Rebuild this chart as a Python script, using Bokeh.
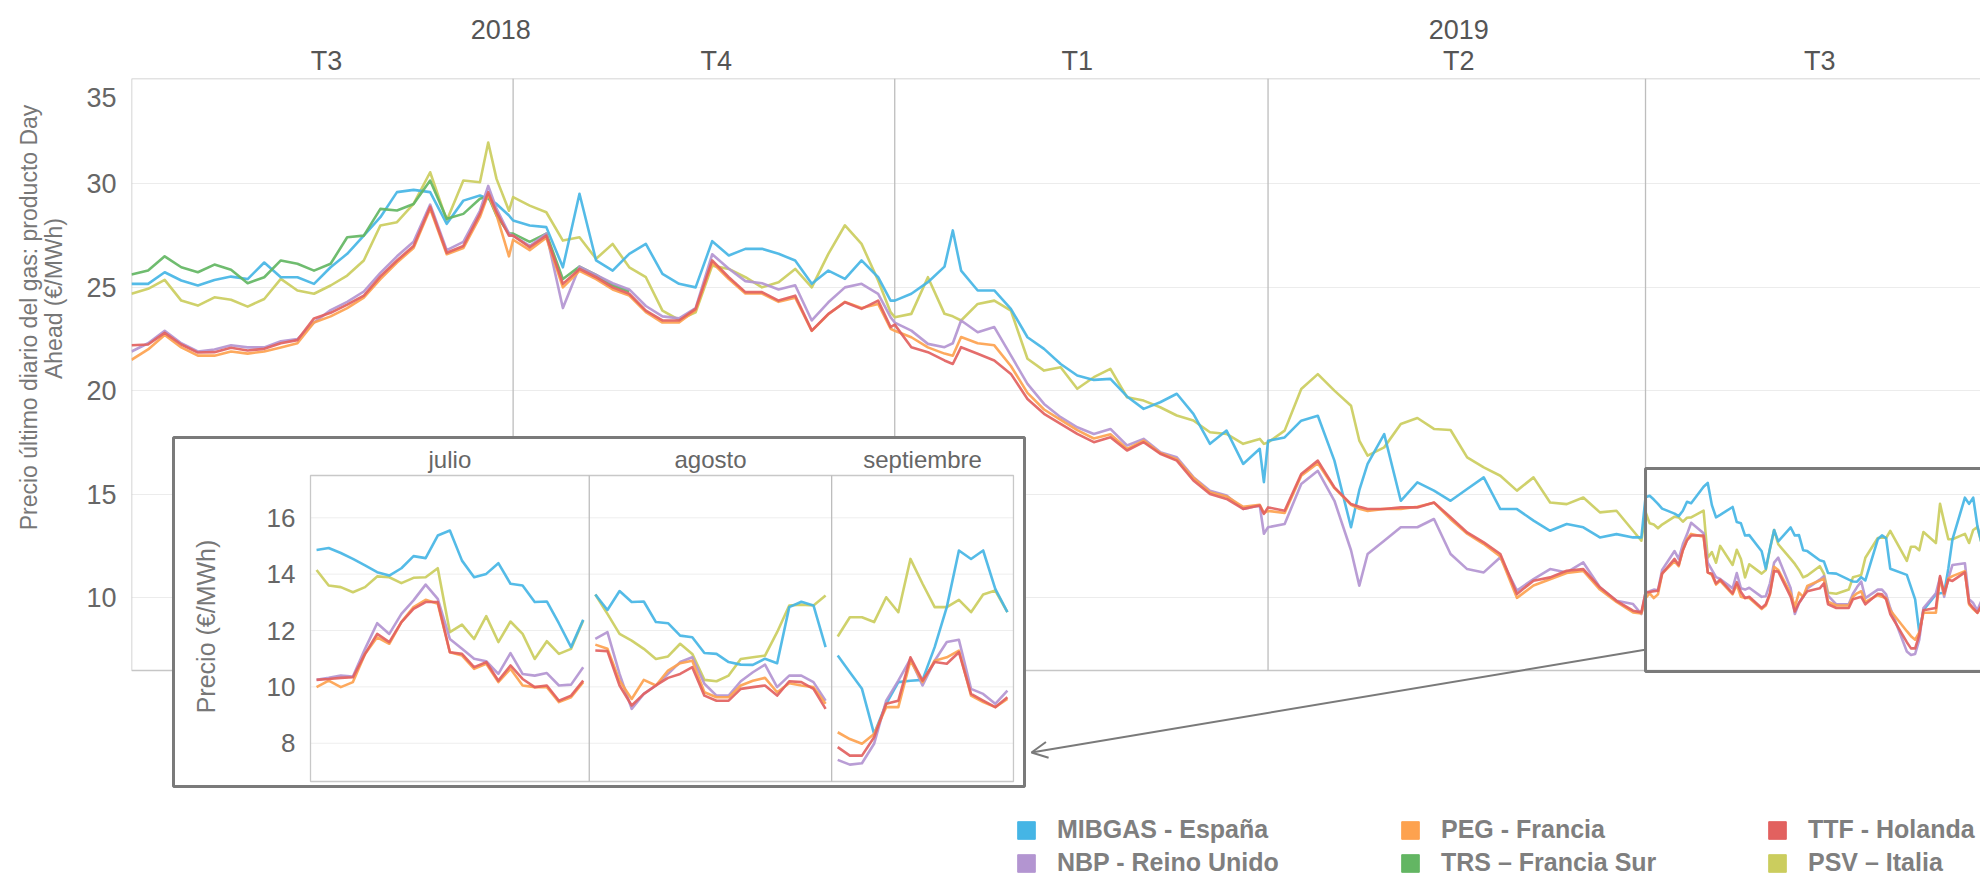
import numpy as np
import pandas as pd
from bokeh.plotting import figure
from bokeh.layouts import row
from bokeh.models import (Range1d, FixedTicker, Legend, LegendItem, Arrow, OpenHead, LinearAxis, Label)
from bokeh.core.properties import value
from bokeh.embed import file_html
from bokeh.resources import INLINE

FONT = "Liberation Sans"

# ---------------- data ----------------
hubs = ["MIBGAS - España", "NBP - Reino Unido", "PEG - Francia",
        "TRS – Francia Sur", "TTF - Holanda", "PSV – Italia"]
colores = ["#45B5E5", "#B395D1", "#FDA24F", "#63B663", "#E2615F", "#CBCD5E"]

anios = ["2018", "2019"]
anios_centro = [89, 320]                   # días desde 2018-07-01
trimestres = ["T3", "T4", "T1", "T2", "T3"]
trimestres_centro = [47, 141, 228, 320, 407]
limites_trimestre = [92, 184, 274, 365]
ticks_main = [10, 15, 20, 25, 30]
ticks_inset = [8, 10, 12, 14, 16]
meses = ["julio", "agosto", "septiembre"]

# main chart, Jul 2018 - Jun 2019 (days since 2018-07-01)
dias = [0, 4, 8, 12, 16, 20, 24, 28, 32, 36, 40, 44, 48, 52, 56, 60, 64, 68, 72, 76, 80, 84, 86, 88, 91,
        92, 96, 100, 104, 108, 112, 116, 120, 124, 128, 132, 136, 140, 144, 148, 152, 156, 160, 164, 168, 172, 176, 180, 183,
        184, 188, 192, 196, 198, 200, 204, 208, 212, 216, 220, 224, 228, 232, 236, 240, 244, 248, 252, 256, 260, 264, 268, 272, 273,
        274, 278, 282, 286, 290, 294, 296, 298, 302, 306, 310, 314, 318, 322, 326, 330, 334, 338, 342, 346, 350, 354, 358, 362, 364]

mibgas = [25.17, 25.17, 25.73, 25.33, 25.09, 25.36, 25.52, 25.4, 26.2, 25.49, 25.49, 25.17, 25.97, 26.62, 27.5, 28.39, 29.6, 29.71, 29.6, 28.07, 29.19, 29.44, 29.28, 29.03, 28.47,
          28.23, 27.99, 27.91, 25.97, 29.52, 26.30, 25.81, 26.62, 27.1, 25.65, 25.17, 25.0, 27.23, 26.54, 26.86, 26.86, 26.62, 26.30, 25.17, 25.81, 25.41, 26.30, 25.49, 24.36,
          24.36, 24.69, 25.25, 26.0, 27.75, 25.81, 24.85, 24.85, 23.96, 22.59, 22.03, 21.3, 20.74, 20.53, 20.58, 19.73, 19.13, 19.45, 19.86, 18.89, 17.44, 18.08, 16.47, 17.2, 15.59,
          17.59, 17.75, 18.56, 18.8, 16.63, 13.41, 15.2, 16.47, 17.91, 14.69, 15.58, 15.18, 14.69, 15.26, 15.82, 14.29, 14.29, 13.73, 13.24, 13.57, 13.41, 12.92, 13.08, 12.92, 12.92]

psv = [24.69, 24.93, 25.36, 24.36, 24.12, 24.52, 24.40, 24.07, 24.44, 25.41, 24.85, 24.69, 25.09, 25.57, 26.30, 27.99, 28.15, 29.03, 30.56, 28.23, 30.16, 30.08, 32.0, 30.24, 28.7,
       29.36, 28.95, 28.63, 27.26, 27.42, 26.38, 27.1, 25.97, 25.49, 23.88, 23.43, 23.8, 26.05, 25.89, 25.49, 25.0, 25.25, 25.89, 25.0, 26.62, 28.0, 27.1, 25.33, 23.8,
       23.56, 23.72, 25.49, 23.72, 23.6, 23.4, 24.2, 24.36, 23.88, 21.55, 20.98, 21.14, 20.1, 20.66, 21.06, 19.69, 19.53, 19.21, 18.81, 18.57, 18.0, 17.92, 17.44, 17.68, 17.44,
       17.51, 18.08, 20.09, 20.81, 20.01, 19.28, 17.6, 16.87, 17.27, 18.4, 18.69, 18.16, 18.11, 16.79, 16.3, 15.9, 15.18, 15.82, 14.61, 14.53, 14.85, 14.13, 14.21, 13.24, 12.76]

ttf = [22.2, 22.24, 22.8, 22.24, 21.85, 21.87, 22.08, 21.95, 22.03, 22.3, 22.45, 23.5, 23.77, 24.17, 24.6, 25.53, 26.30, 27.0, 28.9, 26.67, 27.0, 28.55, 29.6, 28.63, 27.5,
       27.5, 26.94, 27.5, 25.17, 25.89, 25.49, 25.0, 24.69, 23.88, 23.4, 23.4, 23.96, 26.3, 25.49, 24.77, 24.77, 24.36, 24.6, 22.91, 23.72, 24.28, 23.96, 24.36, 23.08,
       23.2, 22.11, 21.87, 21.47, 21.3, 22.11, 21.79, 21.47, 20.82, 19.61, 18.89, 18.41, 17.92, 17.52, 17.76, 17.12, 17.52, 16.96, 16.63, 15.67, 15.02, 14.78, 14.3, 14.46, 14.06,
       14.37, 14.21, 15.98, 16.63, 15.34, 14.53, 14.4, 14.29, 14.29, 14.37, 14.37, 14.61, 13.89, 13.16, 12.68, 12.12, 10.19, 10.83, 10.99, 11.31, 11.39, 10.51, 9.86, 9.38, 9.3]

nbp = [21.9, 22.3, 22.9, 22.3, 21.9, 22.0, 22.2, 22.1, 22.1, 22.4, 22.5, 23.3, 23.9, 24.3, 24.8, 25.7, 26.5, 27.2, 29.0, 26.8, 27.2, 28.7, 29.9, 28.8, 27.6,
       27.5, 27.0, 27.6, 24.0, 26.0, 25.6, 25.2, 24.9, 24.1, 23.6, 23.5, 24.0, 26.6, 25.9, 25.3, 25.2, 24.9, 25.1, 23.4, 24.28, 25.0, 25.17, 24.69, 23.56,
       23.3, 22.91, 22.27, 22.11, 22.3, 23.4, 22.83, 23.08, 21.71, 20.34, 19.37, 18.73, 18.24, 17.92, 18.16, 17.36, 17.68, 17.04, 16.79, 15.83, 15.18, 14.94, 14.3, 14.46, 13.1,
       13.41, 13.57, 15.5, 16.14, 14.69, 12.3, 10.59, 12.12, 12.76, 13.41, 13.41, 13.81, 12.12, 11.39, 11.23, 11.96, 10.35, 10.91, 11.39, 11.23, 11.71, 10.51, 9.86, 9.70, 9.22]

peg = [21.5, 22.0, 22.7, 22.1, 21.7, 21.7, 21.9, 21.8, 21.9, 22.1, 22.3, 23.3, 23.6, 24.0, 24.5, 25.4, 26.2, 26.9, 28.8, 26.6, 26.9, 28.4, 29.5, 28.5, 26.5,
       27.3, 26.8, 27.4, 25.0, 25.8, 25.4, 24.9, 24.6, 23.8, 23.3, 23.3, 23.9, 26.2, 25.4, 24.7, 24.7, 24.3, 24.5, 22.9, 23.7, 24.3, 24.0, 24.2, 23.0,
       22.9, 22.59, 22.1, 21.8, 21.7, 22.6, 22.3, 22.2, 21.2, 19.9, 19.1, 18.6, 18.1, 17.7, 17.9, 17.2, 17.6, 17.0, 16.7, 15.8, 15.1, 14.9, 14.4, 14.5, 14.1,
       14.2, 14.1, 15.9, 16.5, 15.3, 14.5, 14.3, 14.2, 14.3, 14.3, 14.4, 14.6, 13.8, 13.1, 12.6, 12.0, 10.0, 10.6, 10.9, 11.2, 11.3, 10.4, 9.8, 9.3, 9.25]

# TRS only exists until end of October 2018 (merged into TRF)
trs = [25.62, 25.81, 26.5, 25.97, 25.73, 26.10, 25.85, 25.2, 25.49, 26.30, 26.14, 25.81, 26.14, 27.42, 27.5, 28.79, 28.71, 29.03, 30.16, 28.31, 28.55, 29.28, 29.4, 28.47, 27.6,
       27.6, 27.2, 27.6, 25.4, 26.0, 25.6, 25.1, 24.8]
trs = trs + [None] * (len(dias) - len(trs))

# T3 2019 (trading days): julio (23), agosto (20), septiembre (15)
mibgas_t3 = [14.86, 14.93, 14.75, 14.54, 14.31, 14.07, 13.95, 14.21, 14.64, 14.57, 15.37, 15.55, 14.48, 13.89, 14.01, 14.39, 13.66, 13.60, 13.01, 13.03, 12.25, 11.41, 12.38,
             13.28, 12.73, 13.40, 13.01, 13.03, 12.30, 12.26, 11.82, 11.76, 11.20, 11.17, 10.88, 10.79, 10.78, 11.0, 10.84, 12.83, 13.02, 12.89, 11.41,
             11.11, 10.52, 9.93, 8.33, 9.40, 10.17, 10.22, 10.25, 11.41, 12.83, 14.84, 14.54, 14.84, 13.48, 12.65]
psv_t3 = [14.15, 13.6, 13.54, 13.36, 13.54, 13.92, 13.89, 13.68, 13.87, 13.89, 14.21, 11.94, 12.21, 11.70, 12.51, 11.59, 12.32, 11.88, 10.99, 11.62, 11.17, 11.35, 12.36,
          13.28, 12.59, 11.88, 11.64, 11.35, 10.99, 11.08, 11.53, 11.17, 10.25, 10.20, 10.40, 10.99, 11.05, 11.11, 11.94, 12.89, 12.92, 12.89, 13.24,
          11.79, 12.47, 12.47, 12.30, 13.18, 12.65, 14.54, 13.66, 12.83, 12.83, 13.09, 12.65, 13.28, 13.42, 12.65]
nbp_t3 = [10.25, 10.32, 10.40, 10.37, 11.35, 12.26, 11.88, 12.59, 13.07, 13.63, 13.12, 11.70, 11.35, 11.0, 10.91, 10.46, 11.20, 10.46, 10.40, 10.49, 10.05, 10.08, 10.70,
          11.70, 11.94, 10.46, 9.22, 9.75, 10.05, 10.46, 10.88, 11.05, 10.11, 9.69, 9.69, 10.20, 10.52, 10.79, 9.99, 10.40, 10.40, 10.17, 9.51,
          7.41, 7.24, 7.29, 7.98, 9.51, 10.22, 10.99, 10.05, 10.93, 11.59, 11.67, 9.93, 9.75, 9.40, 9.87]
ttf_t3 = [10.25, 10.28, 10.32, 10.34, 11.17, 11.88, 11.59, 12.30, 12.77, 13.01, 13.01, 11.23, 11.17, 10.70, 10.88, 10.22, 10.76, 10.28, 9.99, 10.05, 9.51, 9.69, 10.22,
          11.29, 11.27, 10.05, 9.34, 9.75, 10.05, 10.32, 10.46, 10.70, 9.69, 9.51, 9.51, 9.93, 9.99, 10.05, 9.69, 10.20, 10.17, 9.93, 9.22,
          7.86, 7.56, 7.56, 8.21, 9.40, 9.51, 11.05, 10.22, 10.88, 10.82, 11.23, 9.75, 9.51, 9.28, 9.63]
peg_t3 = [9.99, 10.22, 9.99, 10.17, 11.17, 11.76, 11.53, 12.30, 12.83, 13.09, 12.95, 11.23, 11.11, 10.64, 10.82, 10.17, 10.64, 10.05, 9.99, 9.99, 9.46, 9.63, 10.17,
          11.50, 11.35, 10.22, 9.57, 10.25, 10.05, 10.58, 10.84, 10.93, 9.81, 9.63, 9.63, 10.05, 10.22, 10.32, 9.81, 10.13, 10.05, 9.99, 9.40,
          8.39, 8.15, 7.98, 8.33, 9.28, 9.28, 10.93, 10.17, 10.93, 11.05, 11.29, 9.69, 9.46, 9.28, 9.57]
trs_t3 = [None] * 58

# trading days of the zoom period
base = pd.Timestamp("2018-07-01")
jul = list(pd.bdate_range("2019-07-01", "2019-07-31"))
ago = [d for d in pd.bdate_range("2019-08-01", "2019-08-30")
       if d not in (pd.Timestamp("2019-08-15"), pd.Timestamp("2019-08-30"))]
sep = list(pd.bdate_range("2019-09-02", "2019-09-20"))
n_mes = [len(jul), len(ago), len(sep)]
dias_t3 = [(d - base).days for d in jul + ago + sep]

main_series = [mibgas, nbp, peg, trs, ttf, psv]
t3_series = [mibgas_t3, nbp_t3, peg_t3, trs_t3, ttf_t3, psv_t3]

# ---------------- geometry (page px) ----------------
W, H = 1980, 877
FL, FT = 131, 78          # main pane left / top on the page
YMAX, YMIN = 35.09, 6.49
PXU = 20.7
DAYPX = 4.148


def mx(px):
    return (px - FL) / DAYPX


def my(py):
    return YMAX - (py - FT) / PXU


IX0, SLOT = 310, 12.12
IY16, IPXU = 517.3, 28.18


def ix(px):
    return (px - IX0) / SLOT


def iy(py):
    return 16 - (py - IY16) / IPXU


y_main = Range1d(my(H), my(FT))

# ---------------- left strip: axis title and tick labels ----------------
LFW = 80   # width of the title area
left = figure(width=FL, height=H, x_range=Range1d(0, LFW), y_range=y_main,
              x_axis_type=None, y_axis_location="right", output_backend="svg",
              toolbar_location=None, title=None, min_border_left=0, min_border_right=FL - LFW,
              min_border_top=FT, min_border_bottom=0, outline_line_color=None,
              background_fill_color="white", border_fill_color="white")
left.ygrid.visible = False
ax = left.yaxis[0]
top_pos = my(97)
ax.ticker = FixedTicker(ticks=ticks_main + [top_pos])
ax.major_label_overrides = {top_pos: "35"}
ax.axis_line_color = None
ax.major_tick_line_color = None
ax.minor_tick_line_color = None
ax.major_tick_out = 0
ax.major_tick_in = 0
ax.major_label_standoff = 6
ax.major_label_text_font = FONT
ax.major_label_text_font_size = "27px"
ax.major_label_text_color = "#666666"
left.add_layout(Label(x=28, y=my(317), text="Precio último diario del gas: producto Day",
                      angle=np.pi / 2, text_align="center", text_baseline="middle",
                      text_font=FONT, text_font_size="23px", text_color="#777777"))
left.add_layout(Label(x=53, y=my(298), text="Ahead (€/MWh)",
                      angle=np.pi / 2, text_align="center", text_baseline="middle",
                      text_font=FONT, text_font_size="23px", text_color="#777777"))

# ---------------- main pane ----------------
p = figure(width=W - FL, height=H, x_range=Range1d(mx(FL), mx(W)), y_range=y_main,
           x_axis_type=None, y_axis_location=None, output_backend="svg",
           toolbar_location=None, title=None,
           min_border_left=0, min_border_right=0, min_border_top=FT, min_border_bottom=0,
           outline_line_color=None, background_fill_color="white", border_fill_color="white")
p.extra_x_ranges = {"ix": Range1d(ix(FL), ix(W))}
p.extra_y_ranges = {"iy": Range1d(iy(H), iy(FT))}
p.ygrid[0].ticker = FixedTicker(ticks=ticks_main)
p.ygrid.grid_line_color = "#ececec"
p.ygrid.grid_line_width = 1


def header_axis(ticks, labels, standoff):
    a = LinearAxis(ticker=FixedTicker(ticks=ticks),
                   major_label_overrides=dict(zip(ticks, labels)))
    a.axis_line_color = None
    a.major_tick_line_color = None
    a.minor_tick_line_color = None
    a.major_tick_out = 0
    a.major_tick_in = 0
    a.major_label_standoff = standoff
    a.major_label_text_font = FONT
    a.major_label_text_font_size = "27px"
    a.major_label_text_color = "#555555"
    return a


p.add_layout(header_axis(trimestres_centro, trimestres, 3), "above")
p.add_layout(header_axis(anios_centro, anios, 4), "above")

# main frame and quarter separators
p.quad(left=0, right=mx(W) + 5, bottom=YMIN, top=YMAX, fill_color=None,
       line_color="#c6c6c6", line_width=1.5)
p.segment(x0=limites_trimestre, x1=limites_trimestre, y0=[YMIN] * 4, y1=[YMAX] * 4,
          line_color="#bdbdbd", line_width=1.3)

orden = [5, 0, 3, 1, 2, 4]
LW = 2.6
for i in orden:
    xs = dias + dias_t3
    ys = np.array(main_series[i] + t3_series[i], dtype=float)
    p.line(xs, ys, line_color=colores[i], line_width=LW, line_alpha=0.92, line_join="round")

# highlight box of the zoomed period
p.quad(left=limites_trimestre[-1], right=mx(W) + 20, bottom=my(671), top=my(468),
       fill_color=None, line_color="#7a7a7a", line_width=3)

# ---------------- inset ----------------
p.quad(left=ix(173), right=ix(1024), bottom=iy(786), top=iy(437), x_range_name="ix", y_range_name="iy",
       fill_color="white", line_color="#7a7a7a", line_width=3)
n_tot = sum(n_mes)
p.segment(x0=[0] * len(ticks_inset), x1=[n_tot] * len(ticks_inset), y0=ticks_inset, y1=ticks_inset,
          x_range_name="ix", y_range_name="iy", line_color="#eeeeee", line_width=1)
p.quad(left=0, right=n_tot, bottom=iy(781), top=iy(475), x_range_name="ix", y_range_name="iy",
       fill_color=None, line_color="#c8c8c8", line_width=1.3)
div = [n_mes[0], n_mes[0] + n_mes[1]]
p.segment(x0=div, x1=div, y0=[iy(781)] * 2, y1=[iy(475)] * 2, x_range_name="ix", y_range_name="iy",
          line_color="#bdbdbd", line_width=1.3)
centros = [n_mes[0] / 2, n_mes[0] + n_mes[1] / 2, n_mes[0] + n_mes[1] + n_mes[2] / 2]
p.text(x=centros, y=[iy(459)] * 3, text=meses, x_range_name="ix", y_range_name="iy",
       text_align="center", text_baseline="middle", text_font=value(FONT),
       text_font_size="24px", text_color="#666666")
p.text(x=[ix(295)] * len(ticks_inset), y=ticks_inset, text=[str(t) for t in ticks_inset],
       x_range_name="ix", y_range_name="iy", text_align="right", text_baseline="middle",
       text_font=value(FONT), text_font_size="26px", text_color="#666666")
p.text(x=[ix(205)], y=[iy(626)], text=["Precio (€/MWh)"], angle=np.pi / 2,
       x_range_name="ix", y_range_name="iy", text_align="center", text_baseline="middle",
       text_font=value(FONT), text_font_size="25px", text_color="#777777")

for i in orden:
    if all(v is None for v in t3_series[i]):
        continue
    xs, ys = [], []
    start = 0
    for k, n in enumerate(n_mes):
        xs += [start + j + 0.5 for j in range(n)]
        ys += t3_series[i][start:start + n]
        if k < 2:
            xs.append(np.nan)
            ys.append(np.nan)
        start += n
    p.line(xs, np.array(ys, dtype=float), x_range_name="ix", y_range_name="iy",
           line_color=colores[i], line_width=LW, line_alpha=0.92, line_join="round")

p.add_layout(Arrow(end=OpenHead(size=16, line_color="#7a7a7a", line_width=2),
                   x_start=mx(1646), y_start=my(649), x_end=mx(1031), y_end=my(752),
                   line_color="#7a7a7a", line_width=2))

# ---------------- legend ----------------
dummies = [p.quad(left=[np.nan], right=[np.nan], top=[np.nan], bottom=[np.nan],
                  fill_color=c, line_color=c) for c in colores]
cols = [[0, 1], [2, 3], [4, 5]]
col_x = [884, 1268, 1635]
for idx, vx in zip(cols, col_x):
    leg = Legend(items=[LegendItem(label=hubs[k], renderers=[dummies[k]]) for k in idx],
                 location=(vx, 0), orientation="vertical", glyph_width=22, glyph_height=22,
                 label_height=22, spacing=4, padding=0, margin=0, border_line_color=None,
                 background_fill_alpha=0, label_standoff=20, label_text_font=FONT,
                 label_text_font_size="25px", label_text_font_style="bold",
                 label_text_color="#7f7f7f")
    p.add_layout(leg, "center")

layout = row(left, p, spacing=0)
open("out.html", "w").write(file_html(layout, INLINE, title="Precio Day Ahead gas"))
